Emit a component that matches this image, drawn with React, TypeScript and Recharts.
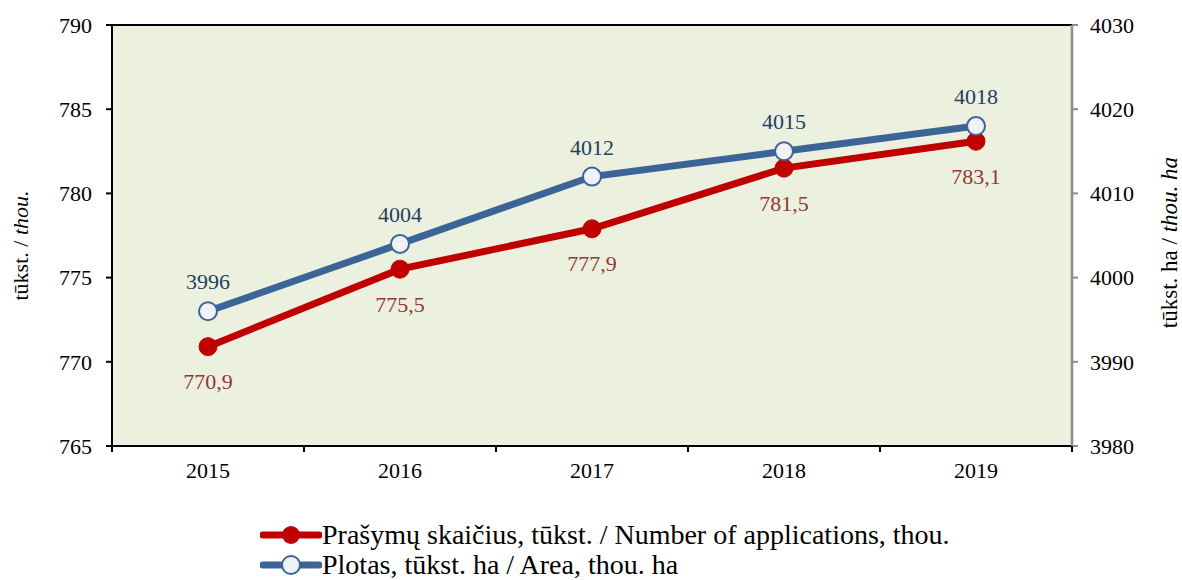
import React from 'react';
import {
  LineChart, Line, XAxis, YAxis, CartesianGrid, ReferenceLine, LabelList, Legend, Label,
} from 'recharts';

const years = ['2015', '2016', '2017', '2018', '2019'];
const applications = [770.9, 775.5, 777.9, 781.5, 783.1];
const area = [3996, 4004, 4012, 4015, 4018];
const leftTicks = [765, 770, 775, 780, 785, 790];
const rightTicks = [3980, 3990, 4000, 4010, 4020, 4030];

const legendApplications = 'Prašymų skaičius, tūkst. / Number of applications, thou.';
const legendArea = 'Plotas, tūkst. ha / Area, thou. ha';

const RED = '#C00000';
const BLUE = '#3B6497';
const RED_LABEL = '#953735';
const BLUE_LABEL = '#243F60';
const FONT = '"Liberation Serif", serif';

const data = years.map((year, i) => ({
  year,
  applications: applications[i],
  area: area[i],
}));

const fmtComma = (v: any) => Number(v).toFixed(1).replace('.', ',');

const LeftAxisLabel = (props: any) => {
  const vb = props.viewBox || {};
  const x = vb.x + 20;
  const y = vb.y + vb.height / 2 + 10;
  return (
    <text x={x} y={y} transform={`rotate(-90, ${x}, ${y})`} textAnchor="middle"
      dominantBaseline="central" fontFamily={FONT} fontSize={22} fill="#000">
      <tspan>tūkst. / </tspan>
      <tspan fontStyle="italic">thou.</tspan>
    </text>
  );
};

const RightAxisLabel = (props: any) => {
  const vb = props.viewBox || {};
  const x = vb.x + 97;
  const y = vb.y + vb.height / 2 + 7;
  return (
    <text x={x} y={y} transform={`rotate(-90, ${x}, ${y})`} textAnchor="middle"
      dominantBaseline="central" fontFamily={FONT} fontSize={23} fill="#000">
      <tspan>tūkst. ha / </tspan>
      <tspan fontStyle="italic">thou. ha</tspan>
    </text>
  );
};

// category tick: label at band centre, tick marks at band boundaries
const CategoryTick = (props: any) => {
  const { x, y, payload, index, visibleTicksCount, width } = props;
  const count = visibleTicksCount || years.length;
  const band = (width || 960) / count;
  const axisY = y - 15;
  const left = x - band / 2;
  const right = x + band / 2;
  return (
    <g>
      <line x1={left} y1={axisY} x2={left} y2={axisY + 6} stroke="#000" strokeWidth={2} />
      {index === count - 1 && (
        <line x1={right} y1={axisY} x2={right} y2={axisY + 6} stroke="#000" strokeWidth={2} />
      )}
      <text x={x} y={y} textAnchor="middle" dominantBaseline="hanging" dy={1}
        fontFamily={FONT} fontSize={22} fill="#000">{payload.value}</text>
    </g>
  );
};

const LegendContent = () => (
  <div style={{ position: 'relative', width: 1182, height: 65, fontFamily: FONT }}>
    <div style={{ position: 'absolute', left: 260, top: 4, display: 'flex', alignItems: 'center', height: 32 }}>
      <svg width={62} height={24}>
        <line x1={3} y1={12} x2={59} y2={12} stroke={RED} strokeWidth={7} strokeLinecap="round" />
        <circle cx={31} cy={12} r={9} fill={RED} />
      </svg>
      <span style={{ fontSize: 28, color: '#000', whiteSpace: 'nowrap', lineHeight: '32px' }}>{legendApplications}</span>
    </div>
    <div style={{ position: 'absolute', left: 260, top: 35, display: 'flex', alignItems: 'center', height: 30 }}>
      <svg width={62} height={24}>
        <line x1={3} y1={12} x2={59} y2={12} stroke={BLUE} strokeWidth={7} strokeLinecap="round" />
        <circle cx={31} cy={12} r={9} fill="#F0F1F6" stroke={BLUE} strokeWidth={2} />
      </svg>
      <span style={{ fontSize: 28, color: '#000', whiteSpace: 'nowrap', lineHeight: '30px' }}>{legendArea}</span>
    </div>
  </div>
);

export default function App() {
  return (
    <div style={{ position: 'absolute', left: 0, top: 0, width: 1182, height: 580, background: '#fff' }}>
      <LineChart width={1182} height={580} data={data}
        margin={{ top: 25, right: 0, left: 0, bottom: 0 }}>
        <CartesianGrid xAxisId="cat" yAxisId="left" horizontal={false} vertical={false} fill="#EBF0DF" />
        <XAxis xAxisId="cat" dataKey="year" scale="band" height={69} axisLine={{ stroke: '#000', strokeWidth: 2 }}
          tickLine={false} tickSize={6} tickMargin={9} tick={CategoryTick} interval={0} />
        <YAxis yAxisId="left" domain={[765, 790]} ticks={leftTicks} width={112} allowDataOverflow
          axisLine={{ stroke: '#000', strokeWidth: 2 }} tickLine={{ stroke: '#000', strokeWidth: 2 }}
          tickSize={6} tickMargin={14}
          tick={{ fontFamily: FONT, fontSize: 22, fill: '#000' }}>
          <Label content={LeftAxisLabel} />
        </YAxis>
        <YAxis yAxisId="right" orientation="right" domain={[3980, 4030]} ticks={rightTicks} width={110} allowDataOverflow
          axisLine={{ stroke: '#8C8C8C', strokeWidth: 2.5 }} tickLine={{ stroke: '#8C8C8C', strokeWidth: 2 }}
          tickSize={6} tickMargin={12}
          tick={{ fontFamily: FONT, fontSize: 22, fill: '#000' }}>
          <Label content={RightAxisLabel} />
        </YAxis>
        <ReferenceLine xAxisId="cat" yAxisId="left" y={790} stroke="#000" strokeWidth={2} />
        <Line xAxisId="cat" yAxisId="left" dataKey="applications" stroke={RED} strokeWidth={7}
          dot={{ r: 9, fill: RED, stroke: RED, strokeWidth: 1 }} activeDot={false} isAnimationActive={false}>
          <LabelList dataKey="applications" position="bottom" offset={27} formatter={fmtComma}
            style={{ fontFamily: FONT, fontSize: 22, fill: RED_LABEL }} />
        </Line>
        <Line xAxisId="cat" yAxisId="right" dataKey="area" stroke={BLUE} strokeWidth={7}
          dot={{ r: 9, fill: '#F0F1F6', stroke: BLUE, strokeWidth: 2 }} activeDot={false} isAnimationActive={false}>
          <LabelList dataKey="area" position="top" offset={22}
            style={{ fontFamily: FONT, fontSize: 22, fill: BLUE_LABEL }} />
        </Line>
        <Legend verticalAlign="bottom" height={65} content={LegendContent}
          wrapperStyle={{ left: 0, bottom: 0, width: 1182, height: 65 }} />
      </LineChart>
    </div>
  );
}
